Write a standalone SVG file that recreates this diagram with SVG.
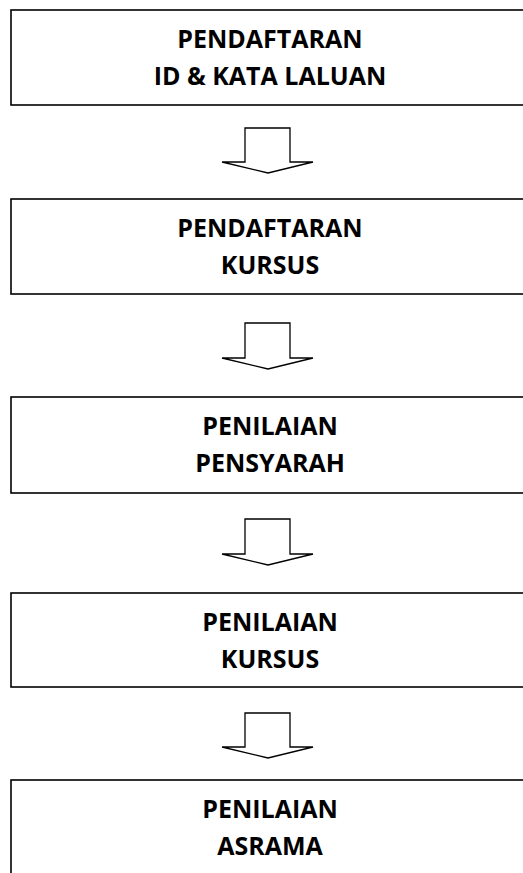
<svg xmlns="http://www.w3.org/2000/svg" width="523" height="873" viewBox="0 0 523 873">
<style>
.box{fill:#fff;stroke:#000;stroke-width:1.6}
.arr{fill:#fff;stroke:#000;stroke-width:1.3;stroke-linejoin:miter}
.t{font-family:"Open Sans","Liberation Sans",sans-serif;font-weight:700;font-size:25px;text-anchor:middle;fill:#000}
</style>
<rect width="523" height="873" fill="#fff"/>
<g id="connectors">
<path class="arr" d="M245,128 H290 V162 H313 L268,173 L222,162 H245 Z"/>
<path class="arr" d="M245,323 H290 V358 H313 L268,369 L222,358 H245 Z"/>
<path class="arr" d="M245,519 H290 V554 H313 L268,565 L222,554 H245 Z"/>
<path class="arr" d="M245,713 H290 V747 H313 L268,758 L222,747 H245 Z"/>
</g>
<g id="n1"><rect class="box" x="11" y="10" width="530" height="95"/><text class="t" x="270" y="48">PENDAFTARAN</text><text class="t" x="270" y="85">ID &amp; KATA LALUAN</text></g>
<g id="n2"><rect class="box" x="11" y="199" width="530" height="95"/><text class="t" x="270" y="237">PENDAFTARAN</text><text class="t" x="270" y="274">KURSUS</text></g>
<g id="n3"><rect class="box" x="11" y="397" width="530" height="96"/><text class="t" x="270" y="435">PENILAIAN</text><text class="t" x="270" y="472">PENSYARAH</text></g>
<g id="n4"><rect class="box" x="11" y="593" width="530" height="94"/><text class="t" x="270" y="631">PENILAIAN</text><text class="t" x="270" y="668">KURSUS</text></g>
<g id="n5"><rect class="box" x="11" y="780" width="530" height="120"/><text class="t" x="270" y="818">PENILAIAN</text><text class="t" x="270" y="855">ASRAMA</text></g>
</svg>
